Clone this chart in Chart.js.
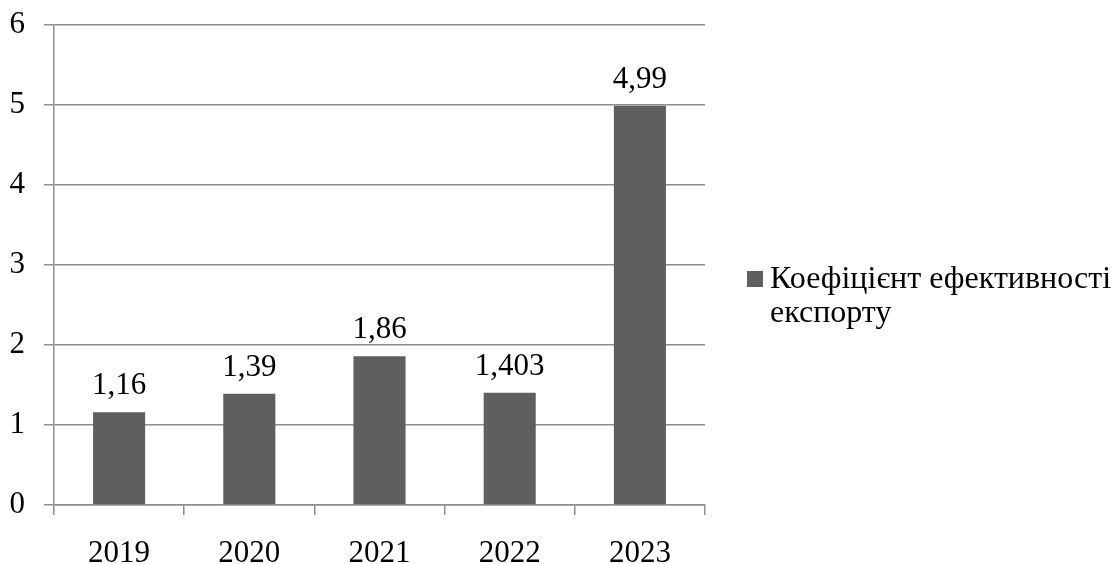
<!DOCTYPE html>
<html lang="uk">
<head>
<meta charset="utf-8">
<title>Коефіцієнт ефективності експорту</title>
<script src="https://cdn.jsdelivr.net/npm/chart.js@4.4.1/dist/chart.umd.min.js"></script>
<style>
  html, body { margin:0; padding:0; background:#fff; }
  #wrap { position:relative; width:1113px; height:564px; overflow:hidden; }
  #legend {
    position:absolute; left:747px; top:260px;
    display:flex; align-items:flex-start;
    font-family:"Liberation Serif","Times New Roman",serif; font-size:32px; line-height:34px; color:#000;
    white-space:nowrap;
  }
  #legend .box { width:16px; height:16px; background:#5f5f5f; margin:11px 7px 0 0; flex:none; }
</style>
</head>
<body>
<div id="wrap">
  <canvas id="c" width="1113" height="564"></canvas>
  <div id="legend"><span class="box"></span><span id="legendText"></span></div>
</div>
<script>
  // дані графіка
  const years = ['2019', '2020', '2021', '2022', '2023'];
  const values = [1.16, 1.39, 1.86, 1.403, 4.99];
  const yTicks = [0, 1, 2, 3, 4, 5, 6];
  const seriesName = ['Коефіцієнт ефективності', 'експорту'];

  const FONT = '"Liberation Serif", "Times New Roman", serif';
  const GRID = '#8e8e8e';

  document.getElementById('legendText').innerHTML = seriesName.join('<br>');

  function fmt(v){ return String(v).replace('.', ','); }

  // підписи значень над стовпцями
  const valueLabels = {
    id: 'valueLabels',
    afterDatasetsDraw(chart){
      const ctx = chart.ctx;
      const meta = chart.getDatasetMeta(0);
      ctx.save();
      ctx.font = '31px ' + FONT;
      ctx.fillStyle = '#000';
      ctx.textAlign = 'center';
      ctx.textBaseline = 'alphabetic';
      meta.data.forEach((bar, i) => {
        ctx.fillText(fmt(values[i]), bar.x, bar.y - 18);
      });
      ctx.restore();
    }
  };

  new Chart(document.getElementById('c').getContext('2d'), {
    type: 'bar',
    data: {
      labels: years,
      datasets: [{
        label: seriesName.join(' '),
        data: values,
        backgroundColor: '#5f5f5f',
        borderWidth: 0,
        barPercentage: 0.4,
        categoryPercentage: 1
      }]
    },
    options: {
      responsive: false,
      animation: false,
      devicePixelRatio: 1,
      layout: { padding: { top: 25, right: 408, left: 0, bottom: 0 } },
      plugins: { legend: { display: false }, tooltip: { enabled: false } },
      scales: {
        x: {
          offset: true,
          grid: { offset: true, drawOnChartArea: false, color: GRID, lineWidth: 1.5, tickLength: 10 },
          border: { display: true, color: GRID, width: 1.5 },
          ticks: { color: '#000', font: { family: FONT, size: 31 }, padding: 20 },
          afterFit(scale){
            scale.height = 59;
            scale.paddingLeft = 0; scale.paddingRight = 0;
          }
        },
        y: {
          min: 0, max: 6,
          afterBuildTicks(scale){ scale.ticks = yTicks.map(v => ({ value: v })); },
          grid: { color: GRID, lineWidth: 1.5, tickLength: 10 },
          border: { display: true, color: GRID, width: 1.5 },
          ticks: { color: '#000', font: { family: FONT, size: 31 }, padding: 19 },
          afterFit(scale){
            scale.width = 54;
            scale.paddingTop = 0; scale.paddingBottom = 0;
          }
        }
      }
    },
    plugins: [valueLabels]
  });
</script>
</body>
</html>
